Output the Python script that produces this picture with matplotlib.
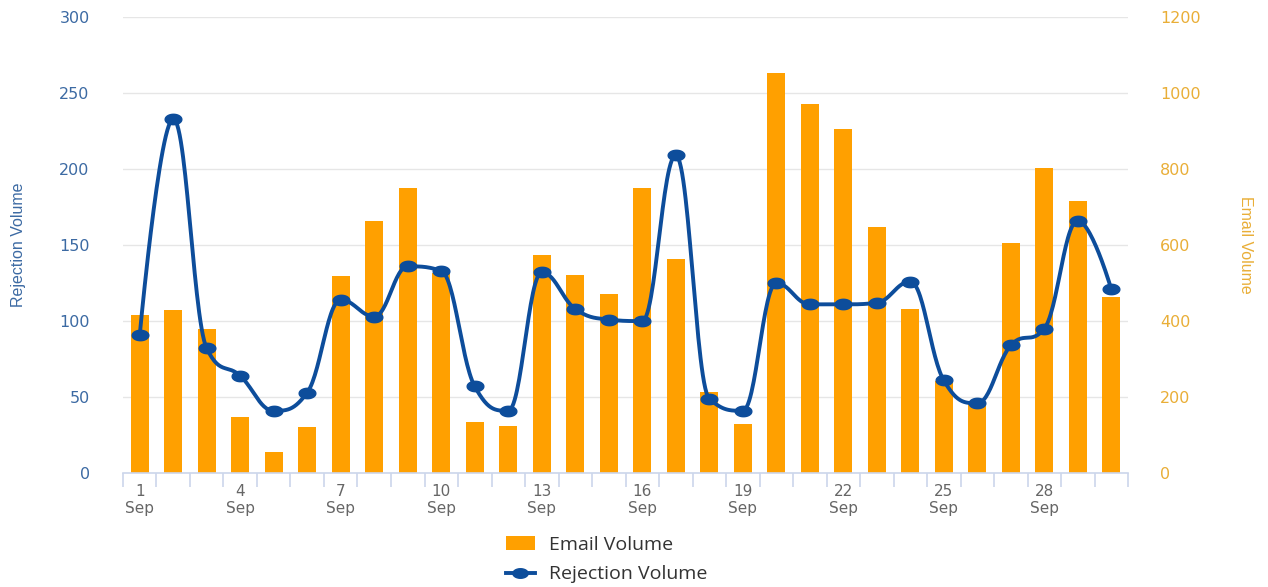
import numpy as np
import matplotlib
matplotlib.use('Agg')
import matplotlib.pyplot as plt
from matplotlib.path import Path
from matplotlib.patches import Patch
from matplotlib.lines import Line2D
from matplotlib.ticker import FixedLocator, MultipleLocator

# data
days = list(range(1, 31))
month = 'Sep'
email_volume = [416, 429, 379, 147, 55, 121, 518, 663, 750, 526,
                134, 124, 574, 521, 471, 750, 563, 213, 129, 1053,
                971, 905, 647, 432, 242, 184, 605, 803, 716, 463]
rejection_volume = [91, 233, 82, 64, 41, 53, 114, 103, 136, 133,
                    57, 41, 132, 108, 101, 100, 209, 49, 41, 125,
                    111, 111, 112, 126, 61, 46, 84, 95, 166, 121]

BAR_COLOR = '#ffa000'
LINE_COLOR = '#0d4d9b'
LEFT_TXT = '#3c6aa3'
RIGHT_TXT = '#e9ae37'


def spline_curve(xs, ys, smoothing=1.5, n=30):
    # highcharts-like spline: bezier control points per point, no overshoot
    xs = np.asarray(xs, float)
    ys = np.asarray(ys, float)
    m = len(xs)
    lc = np.column_stack([xs, ys]).copy()
    rc = np.column_stack([xs, ys]).copy()
    denom = smoothing + 1
    for i in range(1, m - 1):
        px, py = xs[i], ys[i]
        lx, ly = xs[i - 1], ys[i - 1]
        nx, ny = xs[i + 1], ys[i + 1]
        lcx = (smoothing * px + lx) / denom
        lcy = (smoothing * py + ly) / denom
        rcx = (smoothing * px + nx) / denom
        rcy = (smoothing * py + ny) / denom
        corr = (rcy - lcy) * (rcx - px) / (rcx - lcx) + py - rcy
        lcy += corr
        rcy += corr
        if lcy > ly and lcy > py:
            lcy = max(ly, py)
            rcy = 2 * py - lcy
        elif lcy < ly and lcy < py:
            lcy = min(ly, py)
            rcy = 2 * py - lcy
        if rcy > ny and rcy > py:
            rcy = max(ny, py)
            lcy = 2 * py - rcy
        elif rcy < ny and rcy < py:
            rcy = min(ny, py)
            lcy = 2 * py - rcy
        lc[i] = (lcx, lcy)
        rc[i] = (rcx, rcy)
    t = np.linspace(0, 1, n)[:, None]
    out = []
    for i in range(1, m):
        p0 = np.array([xs[i - 1], ys[i - 1]])
        p1 = rc[i - 1]
        p2 = lc[i]
        p3 = np.array([xs[i], ys[i]])
        seg = ((1 - t) ** 3) * p0 + 3 * ((1 - t) ** 2) * t * p1 \
            + 3 * (1 - t) * (t ** 2) * p2 + (t ** 3) * p3
        out.append(seg if i == 1 else seg[1:])
    out = np.vstack(out)
    return out[:, 0], out[:, 1]


# wide ellipse marker (reference is stretched horizontally)
th = np.linspace(0, 2 * np.pi, 64)
ellipse = Path(np.column_stack([1.6 * np.cos(th), np.sin(th)]), closed=True)

fig = plt.figure(figsize=(12.68, 5.87), dpi=100)
ax2 = fig.add_axes([0.097, 0.194, 0.7926, 0.777])
ax = ax2.twinx()
ax.set_zorder(ax2.get_zorder() + 1)
ax.patch.set_visible(False)

x = np.arange(len(days))

# bars on the right axis
ax2.bar(x, email_volume, width=0.54, color=BAR_COLOR, zorder=2)
ax2.set_ylim(0, 1200)
ax2.yaxis.set_major_locator(MultipleLocator(200))
ax2.grid(axis='y', color='#e6e6e6', linewidth=1.0, zorder=0)
ax2.set_axisbelow(True)

# line on the left axis
sx, sy = spline_curve(x, rejection_volume)
ax.plot(sx, sy, color=LINE_COLOR, linewidth=2.8, solid_capstyle='round', zorder=3)
ax.plot(x, rejection_volume, linestyle='none', marker=ellipse, markersize=12,
        color=LINE_COLOR, zorder=4)
ax.set_ylim(0, 300)
ax.yaxis.set_major_locator(MultipleLocator(50))

# the host (ax2) draws its ticks on the left by default -> swap sides
ax2.yaxis.tick_right()
ax.yaxis.tick_left()
ax2.yaxis.set_label_position('right')
ax.yaxis.set_label_position('left')

for a in (ax, ax2):
    for s in a.spines.values():
        s.set_visible(False)

ax2.spines['bottom'].set_visible(True)
ax2.spines['bottom'].set_color('#ccd6eb')
ax2.spines['bottom'].set_linewidth(1.2)

ax.tick_params(axis='y', length=0, pad=24, labelsize=11.5, labelcolor=LEFT_TXT)
ax2.tick_params(axis='y', length=0, pad=23, labelsize=11.5, labelcolor=RIGHT_TXT)
for lab in ax2.get_yticklabels():
    lab.set_horizontalalignment('left')

ax.set_ylabel('Rejection Volume', color=LEFT_TXT, fontsize=11.5,
              family='Liberation Sans')
ax2.set_ylabel('Email Volume', color=RIGHT_TXT, fontsize=11.5,
               family='Liberation Sans', rotation=270)
ax.yaxis.set_label_coords(-0.097, 0.5)
ax2.yaxis.set_label_coords(1.124, 0.5)

# x axis: boundary tick marks, labels every 3 days
ax2.set_xlim(-0.5, len(days) - 0.5)
lab_idx = list(range(0, len(days), 3))
ax2.xaxis.set_major_locator(FixedLocator(lab_idx))
ax2.set_xticklabels([f'{days[i]}\n{month}' for i in lab_idx])
ax2.xaxis.set_minor_locator(FixedLocator(np.arange(-0.5, len(days), 1.0)))
ax2.tick_params(axis='x', which='major', length=0, pad=8, labelsize=11,
                labelcolor='#666666')
ax2.tick_params(axis='x', which='minor', length=10, width=1.2, color='#ccd6eb')
for lab in ax2.get_xticklabels():
    lab.set_linespacing(1.15)

handles = [
    Patch(facecolor=BAR_COLOR, edgecolor='none'),
    Line2D([], [], color=LINE_COLOR, linewidth=2.8, marker=ellipse, markersize=11),
]
leg = fig.legend(handles, ['Email Volume', 'Rejection Volume'],
                 loc='upper left', bbox_to_anchor=(0.385, 0.117), frameon=False,
                 ncol=1, handlelength=1.5, handleheight=0.75,
                 labelspacing=0.6, handletextpad=0.75,
                 prop={'family': 'Open Sans', 'size': 14})
for t in leg.get_texts():
    t.set_color('#333333')

fig.savefig('out.png', dpi=100)
